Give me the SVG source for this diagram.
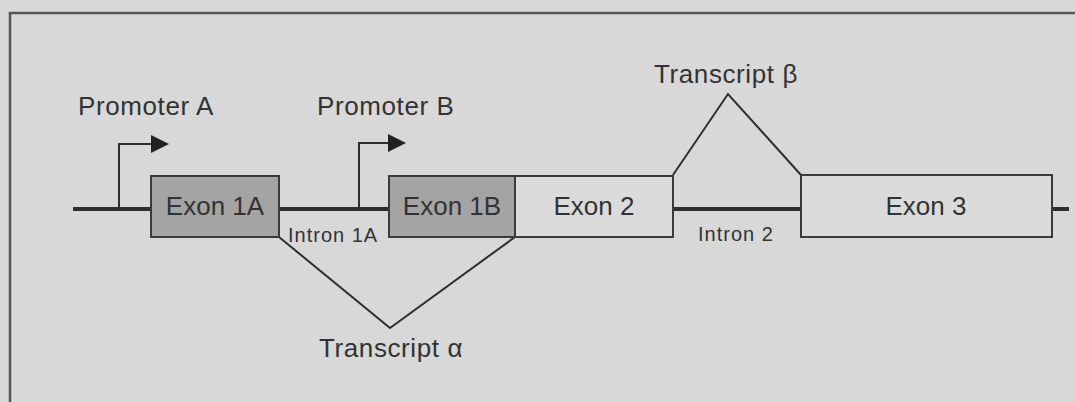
<svg xmlns="http://www.w3.org/2000/svg" width="1075" height="402" viewBox="0 0 1075 402">
<defs>
<style>
.lbl{font-family:"Liberation Sans",Arial,sans-serif;font-size:26px;fill:#333;letter-spacing:0.6px}
.ex{font-family:"Liberation Sans",Arial,sans-serif;font-size:26px;fill:#333;text-anchor:middle}
.sm{font-family:"Liberation Sans",Arial,sans-serif;font-size:20px;fill:#333;letter-spacing:1px}
.dark{fill:#a4a4a4;stroke:#3a3a3a;stroke-width:2}
.light{fill:#dbdbdb;stroke:#3a3a3a;stroke-width:2}
.ln{fill:none;stroke:#2e2e2e;stroke-width:2}
</style>
<marker id="ah" viewBox="0 0 10 10" refX="0" refY="5" markerWidth="18" markerHeight="19" markerUnits="userSpaceOnUse" orient="auto">
<path d="M0,0 L10,5 L0,10 Z" fill="#222"/>
</marker>
</defs>
<rect x="0" y="0" width="1075" height="402" fill="#d8d8d8"/>
<path d="M10,402 V13 H1075" fill="none" stroke="#555" stroke-width="2.5"/>
<g id="connectors">
<line x1="73" y1="209" x2="1069" y2="209" stroke="#2e2e2e" stroke-width="4"/>
<path class="ln" d="M119,209 V144 H151" marker-end="url(#ah)"/>
<path class="ln" d="M359,209 V143 H388" marker-end="url(#ah)"/>
<path class="ln" d="M279,237 L390,328 L515,237"/>
<path class="ln" d="M673,175 L728,94 L801,175"/>
</g>
<g id="exon1a"><rect class="dark" x="151" y="176" width="128" height="61"/><text class="ex" x="215" y="215">Exon 1A</text></g>
<g id="exon1b"><rect class="dark" x="389" y="176" width="126" height="61"/><text class="ex" x="452" y="215">Exon 1B</text></g>
<g id="exon2"><rect class="light" x="515" y="176" width="158" height="61"/><text class="ex" x="594" y="215">Exon 2</text></g>
<g id="exon3"><rect class="light" x="801" y="175" width="251" height="62"/><text class="ex" x="926" y="215">Exon 3</text></g>
<g id="promoterA"><text class="lbl" x="78" y="115">Promoter A</text></g>
<g id="promoterB"><text class="lbl" x="317" y="115">Promoter B</text></g>
<g id="transcriptB"><text class="lbl" x="654" y="83">Transcript β</text></g>
<g id="transcriptA"><text class="lbl" x="319" y="357">Transcript α</text></g>
<g id="intron1a"><text class="sm" x="288" y="242">Intron 1A</text></g>
<g id="intron2"><text class="sm" x="698" y="241">Intron 2</text></g>
</svg>
